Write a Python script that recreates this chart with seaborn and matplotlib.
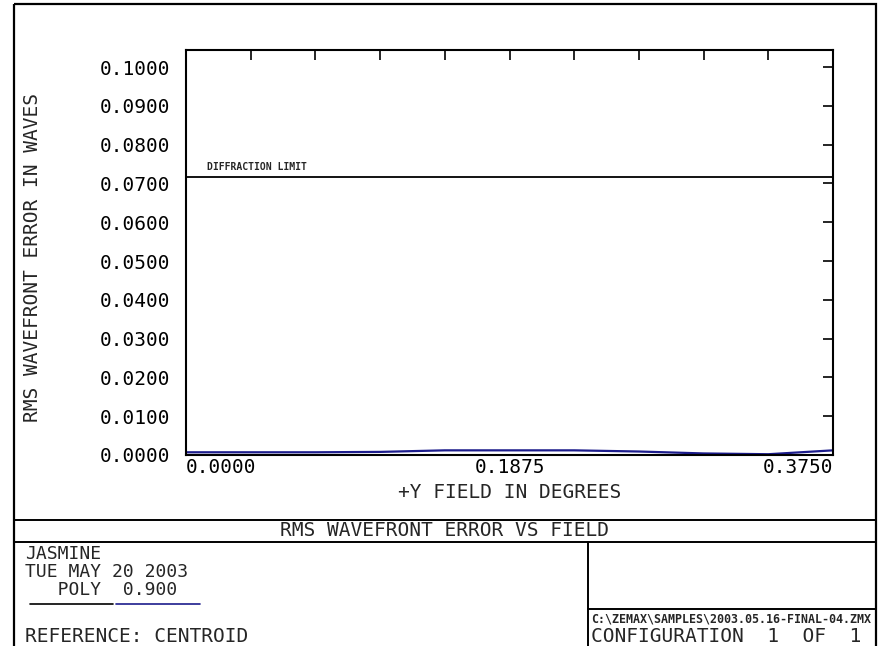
"""
RMS wavefront error vs field (Zemax-style report page), redrawn with seaborn.
"""

import pandas as pd
import matplotlib.pyplot as plt
from matplotlib.patches import Rectangle
import seaborn as sns

# ---- Data ----------------------------------------------------------------

field_deg = [0.0000, 0.0375, 0.0750, 0.1125, 0.1500, 0.1875,
             0.2250, 0.2625, 0.3000, 0.3375, 0.3750]
rms_waves = [0.0007, 0.0007, 0.0007, 0.0008, 0.0012, 0.0012,
             0.0012, 0.0009, 0.0004, 0.0002, 0.0012]
diffraction_limit = 0.0716

x_ticks = [0.0, 0.0375, 0.075, 0.1125, 0.15, 0.1875,
           0.225, 0.2625, 0.3, 0.3375, 0.375]
x_tick_labels = ["0.0000", "", "", "", "", "0.1875", "", "", "", "", "0.3750"]
y_ticks = [0.00, 0.01, 0.02, 0.03, 0.04, 0.05, 0.06, 0.07, 0.08, 0.09, 0.10]
y_tick_labels = [f"{v:.4f}" for v in y_ticks]

NAVY = "#1c1c8c"
W, H = 882, 646

sns.set_theme(style="white")
plt.rcParams["font.family"] = ["DejaVu Sans Mono", "DejaVu Sans"]

fig = plt.figure(figsize=(W / 100, H / 100), dpi=100)

# ---- Page overlay in pixel coordinates (frame, title block, notes) --------

page = fig.add_axes([0, 0, 1, 1])
page.set_xlim(0, W)
page.set_ylim(H, 0)
page.axis("off")

page.add_patch(Rectangle((14, 4), 862, 646, fill=False, lw=1.6, ec="black"))
page.plot([14, 876], [520, 520], color="black", lw=1.4)
page.plot([14, 876], [542, 542], color="black", lw=1.4)
page.plot([588, 588], [542, 650], color="black", lw=1.4)
page.plot([588, 876], [609, 609], color="black", lw=1.4)

big = 14
note = 13
page.text(33, 258, "RMS WAVEFRONT ERROR IN WAVES", rotation=90,
          ha="center", va="center", fontsize=big)
page.text(510, 493, "+Y FIELD IN DEGREES", ha="center", va="center", fontsize=big)
page.text(445, 531, "RMS WAVEFRONT ERROR VS FIELD", ha="center", va="center",
          fontsize=big)

page.text(25, 554, "JASMINE", ha="left", va="center", fontsize=note)
page.text(25, 572, "TUE MAY 20 2003", ha="left", va="center", fontsize=note)
page.text(25, 590, "   POLY  0.900", ha="left", va="center", fontsize=note)
page.plot([30, 113], [604, 604], color="black", lw=1.2)
page.plot([116, 200], [604, 604], color=NAVY, lw=1.2)
page.text(25, 636, "REFERENCE: CENTROID", ha="left", va="center", fontsize=big)

page.text(591, 619, "C:\\ZEMAX\\SAMPLES\\2003.05.16-FINAL-04.ZMX", ha="left",
          va="center", fontsize=8.4, fontweight="bold")
page.text(591, 637, "CONFIGURATION  1  OF  1", ha="left", va="center", fontsize=big)

# ---- Plot area -----------------------------------------------------------

ax = fig.add_axes([186 / W, 1 - 455 / H, 647 / W, 405 / H])
df = pd.DataFrame({"field": field_deg, "rms": rms_waves})
sns.lineplot(data=df, x="field", y="rms", ax=ax, color=NAVY, linewidth=1.6)

ax.axhline(diffraction_limit, color="black", lw=1.3)
ax.text(0.0122, diffraction_limit + 0.0013, "DIFFRACTION LIMIT",
        fontsize=7, fontweight="bold", ha="left", va="bottom")

ax.set_xlim(0, 0.375)
ax.set_ylim(0, 0.1044)
ax.set_xticks(x_ticks)
ax.set_xticklabels(x_tick_labels)
ax.set_yticks(y_ticks)
ax.set_yticklabels(y_tick_labels)
ax.set_xlabel("")
ax.set_ylabel("")

ax.tick_params(axis="both", direction="in", length=7, width=1.2, color="black",
               top=True, right=True, labelsize=big, labelcolor="black")
ax.tick_params(axis="x", pad=2)
ax.tick_params(axis="y", pad=11)

xlabels = ax.get_xticklabels()
xlabels[0].set_horizontalalignment("left")
xlabels[-1].set_horizontalalignment("right")

for spine in ax.spines.values():
    spine.set_color("black")
    spine.set_linewidth(1.5)

fig.savefig("out.png", dpi=100)
